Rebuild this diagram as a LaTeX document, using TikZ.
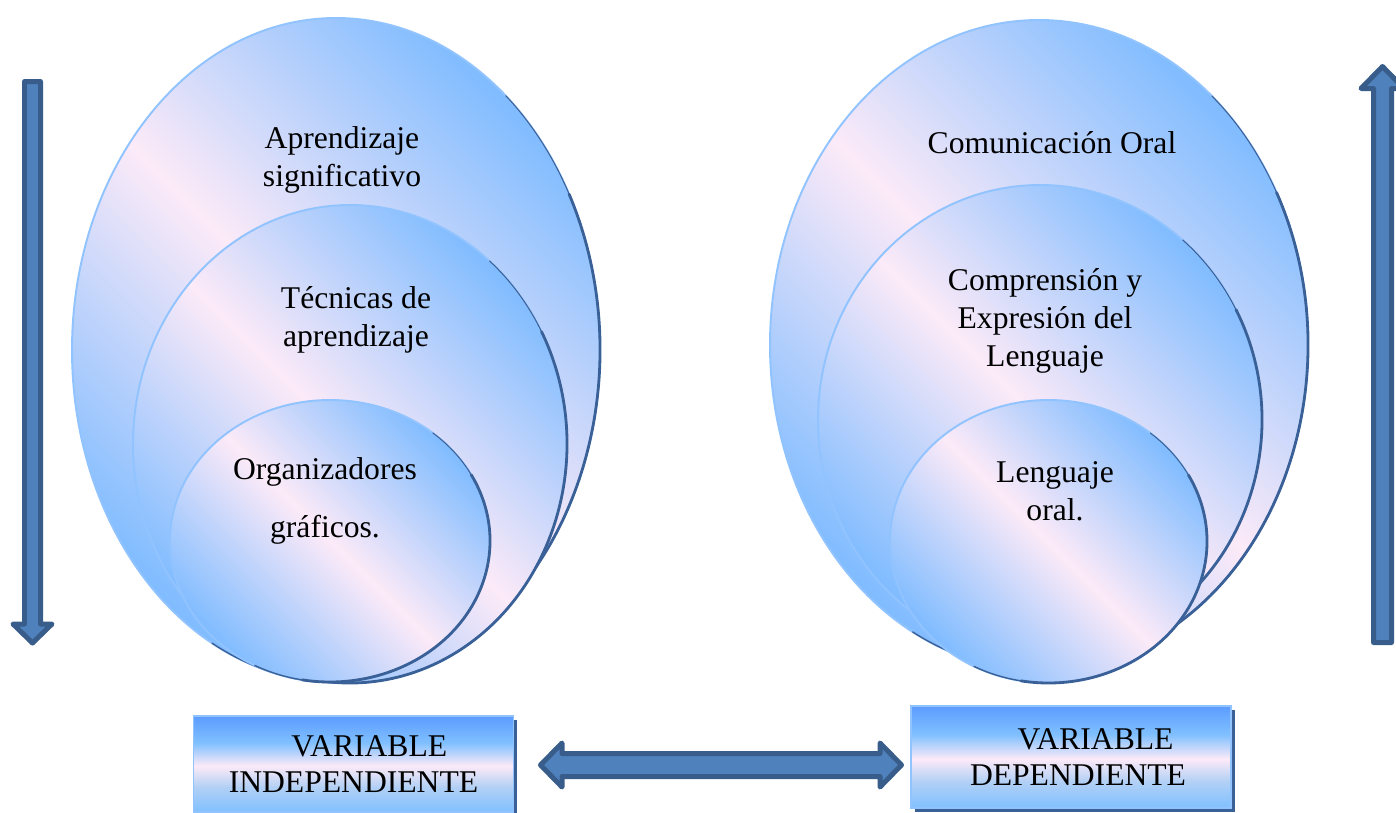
\documentclass[tikz,border=0pt]{standalone}
\usepackage{fontspec}
\setmainfont{Liberation Serif}
\usetikzlibrary{shadows}
\definecolor{ovblue}{RGB}{128,188,255}
\definecolor{ovpink}{RGB}{252,234,248}
\definecolor{ovedge}{RGB}{145,195,255}
\definecolor{ovdark}{RGB}{58,96,152}
\definecolor{arrfill}{RGB}{79,129,189}
\definecolor{arrline}{RGB}{56,93,138}
\definecolor{boxtop}{RGB}{92,156,255}
\definecolor{boxlow}{RGB}{128,192,255}
\definecolor{boxmid}{RGB}{178,208,245}
\pgfdeclareverticalshading{ovalfill}{100bp}{color(0bp)=(ovblue); color(25bp)=(ovblue);
  color(50bp)=(ovpink); color(75bp)=(ovblue); color(100bp)=(ovblue)}
\pgfdeclareverticalshading{boxfill}{100bp}{color(0bp)=(boxlow); color(25bp)=(boxlow);
  color(38bp)=(boxmid); color(49bp)=(ovpink); color(61bp)=(boxlow); color(75bp)=(boxtop);
  color(100bp)=(boxtop)}
\tikzset{
  oval/.style={shade,shading=ovalfill,shading angle=-45,draw=ovedge,line width=1.1pt},
  ovalrim/.style={draw=ovdark,line width=1.6pt,line cap=round},
  fatarrow/.style={fill=arrfill,draw=arrline,line width=0.1cm,line join=round},
  lbl/.style={align=center,inner sep=0pt,font=\fontsize{18}{21.5}\selectfont},
  varbox/.style={shade,shading=boxfill,draw=ovedge,line width=0.8pt,
    minimum width=6.4cm,align=center,inner sep=0pt,
    font=\fontsize{18}{20.5}\selectfont,
    drop shadow={shadow xshift=2.2pt,shadow yshift=-2.2pt,fill=ovdark,opacity=1}}
}
\begin{document}
\begin{tikzpicture}[x=0.02cm,y=-0.02cm]
  \useasboundingbox (0,0) rectangle (1396,812);
  % nested ovals, outer first
  \foreach \cx/\cy/\rx/\ry in {336/350/264/332,350/444/217/239,330/541/160/141,
      1039/345/269/325,1040/420/222/235,1048.5/541.5/158.5/141.5}{
    \path[oval] (\cx,\cy) ellipse [x radius=\rx,y radius=\ry];
    \draw[ovalrim,line width=0.6pt] (\cx,\cy) ++({\rx*cos(-50)},{\ry*sin(-50)})
      arc[start angle=-50,end angle=-28,x radius=\rx,y radius=\ry];
    \draw[ovalrim] (\cx,\cy) ++({\rx*cos(-28)},{\ry*sin(-28)})
      arc[start angle=-28,end angle=100,x radius=\rx,y radius=\ry];
    \draw[ovalrim,line width=0.8pt] (\cx,\cy) ++({\rx*cos(100)},{\ry*sin(100)})
      arc[start angle=100,end angle=118,x radius=\rx,y radius=\ry];
  }
  \node[lbl] (apr) at (342,160) {Aprendizaje\\significativo};
  \node[lbl] (tec) at (356,320) {Técnicas de\\aprendizaje};
  \node[lbl] (org) at (325,501) {Organizadores\\[12pt]gráficos.};
  \node[lbl] (com) at (1052,143) {Comunicación Oral};
  \node[lbl] (cel) at (1045,321) {Comprensión y\\Expresión del\\Lenguaje};
  \node[lbl] (lor) at (1055,491) {Lenguaje\\oral.};
  % variables
  \node[varbox,minimum height=1.92cm] (vind) at (353.5,764) {\hspace*{18pt}VARIABLE\\INDEPENDIENTE};
  \node[varbox,minimum height=2.04cm] (vdep) at (1071,757) {\hspace*{28pt}VARIABLE\\\hspace*{8pt}DEPENDIENTE};
  % arrows
  \draw[fatarrow] (24.5,81.5)--(40.5,81.5)--(40.5,624)--(52,624)--(32.5,643)
    --(13,624)--(24.5,624)--cycle;
  \draw[fatarrow] (1382.5,66.5)--(1404,88.5)--(1391.5,88.5)--(1391.5,642.5)
    --(1373.5,642.5)--(1373.5,88.5)--(1361,88.5)--cycle;
  \draw[fatarrow] (540.5,765)--(562,743)--(562,753.5)--(880,753.5)--(880,743)
    --(901.5,765)--(880,787)--(880,776.5)--(562,776.5)--(562,787)--cycle;
\end{tikzpicture}
\end{document}
